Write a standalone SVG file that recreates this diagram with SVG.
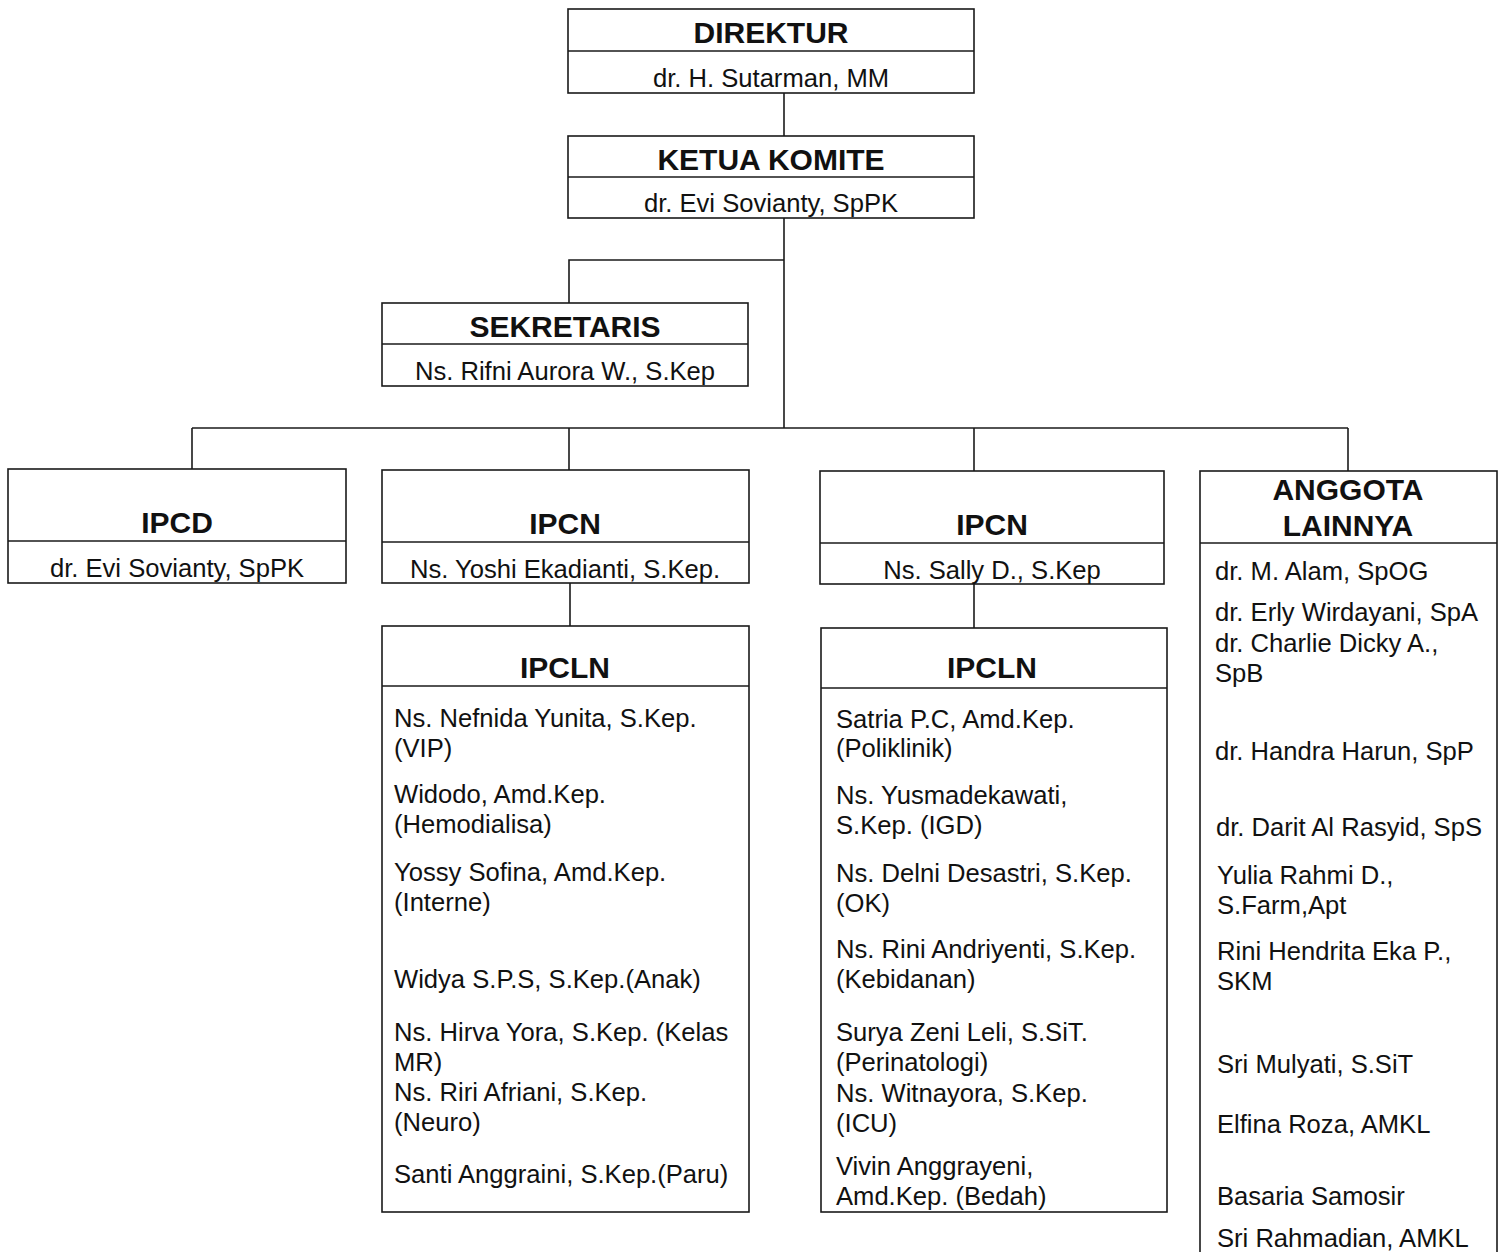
<svg xmlns="http://www.w3.org/2000/svg" width="1509" height="1252" viewBox="0 0 1509 1252">
<style>
rect.box{fill:#fff;stroke:#1a1a1a;stroke-width:1.6}
line.div{stroke:#1a1a1a;stroke-width:1.6}
.conn path{fill:none;stroke:#1a1a1a;stroke-width:1.6}
text{font-family:"Liberation Sans",Arial,sans-serif;fill:#111}
.t{font-size:30px;font-weight:bold;text-anchor:middle}
.n{font-size:25.6px;text-anchor:middle}
.l{font-size:25.6px}
</style>
<rect width="1509" height="1252" fill="#fff"/>
<g class="conn" id="connectors">
<path d="M784 93V136"/>
<path d="M784 218V428"/>
<path d="M784 260H569V303"/>
<path d="M192 428H1348"/>
<path d="M192 428V469"/>
<path d="M569 428V470"/>
<path d="M974 428V471"/>
<path d="M1348 428V471"/>
<path d="M570 583V626"/>
<path d="M974 584V628"/>
</g>
<g id="direktur">
<rect class="box" x="568" y="9" width="406" height="84"/>
<line class="div" x1="568" y1="51" x2="974" y2="51"/>
<text class="t" x="771" y="43">DIREKTUR</text>
<text class="n" x="771" y="87">dr. H. Sutarman, MM</text>
</g>
<g id="ketua">
<rect class="box" x="568" y="136" width="406" height="82"/>
<line class="div" x1="568" y1="177" x2="974" y2="177"/>
<text class="t" x="771" y="170">KETUA KOMITE</text>
<text class="n" x="771" y="212">dr. Evi Sovianty, SpPK</text>
</g>
<g id="sekretaris">
<rect class="box" x="382" y="303" width="366" height="83"/>
<line class="div" x1="382" y1="344" x2="748" y2="344"/>
<text class="t" x="565" y="337">SEKRETARIS</text>
<text class="n" x="565" y="380">Ns. Rifni Aurora W., S.Kep</text>
</g>
<g id="ipcd">
<rect class="box" x="8" y="469" width="338" height="114"/>
<line class="div" x1="8" y1="541" x2="346" y2="541"/>
<text class="t" x="177" y="533">IPCD</text>
<text class="n" x="177" y="577">dr. Evi Sovianty, SpPK</text>
</g>
<g id="ipcn1">
<rect class="box" x="382" y="470" width="367" height="113"/>
<line class="div" x1="382" y1="542" x2="749" y2="542"/>
<text class="t" x="565" y="534">IPCN</text>
<text class="n" x="565" y="578">Ns. Yoshi Ekadianti, S.Kep.</text>
</g>
<g id="ipcn2">
<rect class="box" x="820" y="471" width="344" height="113"/>
<line class="div" x1="820" y1="543" x2="1164" y2="543"/>
<text class="t" x="992" y="535">IPCN</text>
<text class="n" x="992" y="579">Ns. Sally D., S.Kep</text>
</g>
<g id="anggota">
<rect class="box" x="1200" y="471" width="297" height="800"/>
<line class="div" x1="1200" y1="543" x2="1497" y2="543"/>
<text class="t" x="1348" y="500">ANGGOTA</text>
<text class="t" x="1348" y="536">LAINNYA</text>
<text class="l" x="1215" y="580">dr. M. Alam, SpOG</text>
<text class="l" x="1215" y="621">dr. Erly Wirdayani, SpA</text>
<text class="l" x="1215" y="652">dr. Charlie Dicky A.,</text>
<text class="l" x="1215" y="682">SpB</text>
<text class="l" x="1215" y="760">dr. Handra Harun, SpP</text>
<text class="l" x="1216" y="836">dr. Darit Al Rasyid, SpS</text>
<text class="l" x="1217" y="884">Yulia Rahmi D.,</text>
<text class="l" x="1217" y="914">S.Farm,Apt</text>
<text class="l" x="1217" y="960">Rini Hendrita Eka P.,</text>
<text class="l" x="1217" y="990">SKM</text>
<text class="l" x="1217" y="1073">Sri Mulyati, S.SiT</text>
<text class="l" x="1217" y="1133">Elfina Roza, AMKL</text>
<text class="l" x="1217" y="1205">Basaria Samosir</text>
<text class="l" x="1217" y="1247">Sri Rahmadian, AMKL</text>
</g>
<g id="ipcln1">
<rect class="box" x="382" y="626" width="367" height="586"/>
<line class="div" x1="382" y1="686" x2="749" y2="686"/>
<text class="t" x="565" y="678">IPCLN</text>
<text class="l" x="394" y="727">Ns. Nefnida Yunita, S.Kep.</text>
<text class="l" x="394" y="757">(VIP)</text>
<text class="l" x="394" y="803">Widodo, Amd.Kep.</text>
<text class="l" x="394" y="833">(Hemodialisa)</text>
<text class="l" x="394" y="881">Yossy Sofina, Amd.Kep.</text>
<text class="l" x="394" y="911">(Interne)</text>
<text class="l" x="394" y="988">Widya S.P.S, S.Kep.(Anak)</text>
<text class="l" x="394" y="1041">Ns. Hirva Yora, S.Kep. (Kelas</text>
<text class="l" x="394" y="1071">MR)</text>
<text class="l" x="394" y="1101">Ns. Riri Afriani, S.Kep.</text>
<text class="l" x="394" y="1131">(Neuro)</text>
<text class="l" x="394" y="1183">Santi Anggraini, S.Kep.(Paru)</text>
</g>
<g id="ipcln2">
<rect class="box" x="821" y="628" width="346" height="584"/>
<line class="div" x1="821" y1="688" x2="1167" y2="688"/>
<text class="t" x="992" y="678">IPCLN</text>
<text class="l" x="836" y="728">Satria P.C, Amd.Kep.</text>
<text class="l" x="836" y="757">(Poliklinik)</text>
<text class="l" x="836" y="804">Ns. Yusmadekawati,</text>
<text class="l" x="836" y="834">S.Kep. (IGD)</text>
<text class="l" x="836" y="882">Ns. Delni Desastri, S.Kep.</text>
<text class="l" x="836" y="912">(OK)</text>
<text class="l" x="836" y="958">Ns. Rini Andriyenti, S.Kep.</text>
<text class="l" x="836" y="988">(Kebidanan)</text>
<text class="l" x="836" y="1041">Surya Zeni Leli, S.SiT.</text>
<text class="l" x="836" y="1071">(Perinatologi)</text>
<text class="l" x="836" y="1102">Ns. Witnayora, S.Kep.</text>
<text class="l" x="836" y="1132">(ICU)</text>
<text class="l" x="836" y="1175">Vivin Anggrayeni,</text>
<text class="l" x="836" y="1205">Amd.Kep. (Bedah)</text>
</g>
</svg>
